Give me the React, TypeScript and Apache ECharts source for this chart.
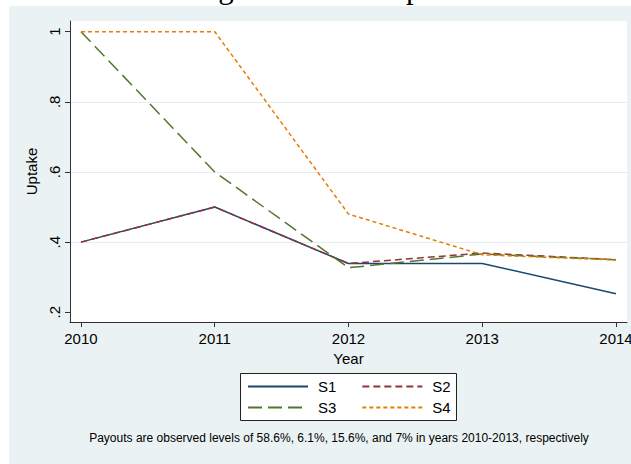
import React, { useEffect, useRef } from "react";
import * as echarts from "echarts";

const years = [2010, 2011, 2012, 2013, 2014];
const yTicks = [0.2, 0.4, 0.6, 0.8, 1.0];
const s1 = [0.4, 0.5, 0.339, 0.339, 0.253];
const s2 = [0.4, 0.5, 0.339, 0.369, 0.35];
const s3 = [1.0, 0.6, 0.327, 0.366, 0.35];
const s4 = [1.0, 1.0, 0.48, 0.364, 0.349];
const seriesNames = ["S1", "S2", "S3", "S4"];
const titleText = "Average Insurance Uptake";
const noteText =
  "Payouts are observed levels of 58.6%, 6.1%, 15.6%, and 7% in years 2010-2013, respectively";

const FONT = "Liberation Sans, Arial, Helvetica, sans-serif";

export default function App() {
  const ref = useRef<HTMLDivElement>(null);
  useEffect(() => {
    if (!ref.current) return;
    const chart = echarts.init(ref.current, undefined, { renderer: "svg" });
    const pair = (vals: number[]) => years.map((y, i) => [y, vals[i]]);
    const colors = ["#1a476f", "#90353b", "#55752f", "#e37e00"];
    const dashes: any[] = ["solid", [7, 4], [14, 6], [4, 3]];
    const allData = [s1, s2, s3, s4];
    const series = seriesNames.map((name, i) => ({
      name,
      type: "line",
      data: pair(allData[i]),
      symbol: "none",
      showSymbol: false,
      color: colors[i],
      lineStyle: { color: colors[i], width: 1.5, type: dashes[i] },
      z: 3 + i,
    }));
    const legendCommon = {
      orient: "horizontal",
      left: 247,
      padding: 0,
      itemWidth: 60,
      itemHeight: 14,
      itemGap: 25,
      itemStyle: { opacity: 0, borderWidth: 0 },
      textStyle: {
        fontFamily: FONT,
        fontSize: 15,
        color: "#000",
        padding: [0, 0, 0, 5],
      },
      selectedMode: false,
    };
    chart.setOption({
      animation: false,
      graphic: [
        {
          type: "rect",
          shape: { x: 9, y: 6, width: 640, height: 470 },
          style: { fill: "#eaf2f3" },
          z: -10,
          silent: true,
        },
        {
          type: "rect",
          shape: { x: 70, y: 21, width: 557, height: 301 },
          style: { fill: "#ffffff" },
          z: -9,
          silent: true,
        },
        {
          type: "rect",
          shape: { x: 240.5, y: 373.5, width: 216, height: 47 },
          style: { fill: "#ffffff", stroke: "#222", lineWidth: 1 },
          z: -8,
          silent: true,
        },
        {
          type: "text",
          x: 309,
          y: -13,
          style: {
            text: titleText,
            font: "31px 'Liberation Serif', 'Times New Roman', serif",
            fill: "#000",
            textAlign: "center",
            textVerticalAlign: "middle",
          },
          silent: true,
        },
        {
          type: "text",
          x: 339,
          y: 438,
          style: {
            text: noteText,
            font: "12px " + FONT,
            fill: "#000",
            textAlign: "center",
            textVerticalAlign: "middle",
          },
          silent: true,
        },
      ],
      legend: [
        { ...legendCommon, top: 379, data: ["S1", "S2"] },
        { ...legendCommon, top: 400, data: ["S3", "S4"] },
      ],
      grid: {
        left: 70,
        right: 4,
        top: 21,
        bottom: 142,
        containLabel: false,
        outerBoundsMode: "none",
      },
      xAxis: {
        type: "value",
        min: 2009.918,
        max: 2014.082,
        name: "Year",
        nameLocation: "middle",
        nameGap: 26,
        nameTextStyle: { fontFamily: FONT, fontSize: 15, color: "#000", verticalAlign: "top" },
        axisLine: { show: true, lineStyle: { color: "#333", width: 1 } },
        axisTick: { show: true, customValues: years, length: 5, lineStyle: { color: "#333" } },
        axisLabel: {
          customValues: years,
          formatter: (v: number) => String(Math.round(v)),
          fontFamily: FONT,
          fontSize: 15,
          color: "#000",
          margin: 9,
          hideOverlap: false,
        },
        splitLine: { show: false },
      },
      yAxis: {
        type: "value",
        min: 0.1723,
        max: 1.0305,
        name: "Uptake",
        nameLocation: "middle",
        nameGap: 27,
        nameRotate: 90,
        nameTextStyle: { fontFamily: FONT, fontSize: 15, color: "#000" },
        axisLine: { show: true, lineStyle: { color: "#333", width: 1 } },
        axisTick: { show: true, customValues: yTicks, length: 5, lineStyle: { color: "#333" } },
        axisLabel: {
          customValues: yTicks,
          rotate: 90,
          formatter: (v: number) => {
            const r = Math.round(v * 10) / 10;
            return r === 1 ? "1" : "." + Math.round(r * 10);
          },
          fontFamily: FONT,
          fontSize: 15,
          color: "#000",
          margin: 8,
        },
        splitLine: {
          show: true,
          showMinLine: false,
          showMaxLine: false,
          lineStyle: { color: "#e4edef", width: 1 },
        },
      },
      series,
    });
    return () => chart.dispose();
  }, []);
  return (
    <div
      ref={ref}
      style={{ position: "fixed", left: 0, top: 0, width: 631, height: 464, background: "#fff" }}
    />
  );
}
